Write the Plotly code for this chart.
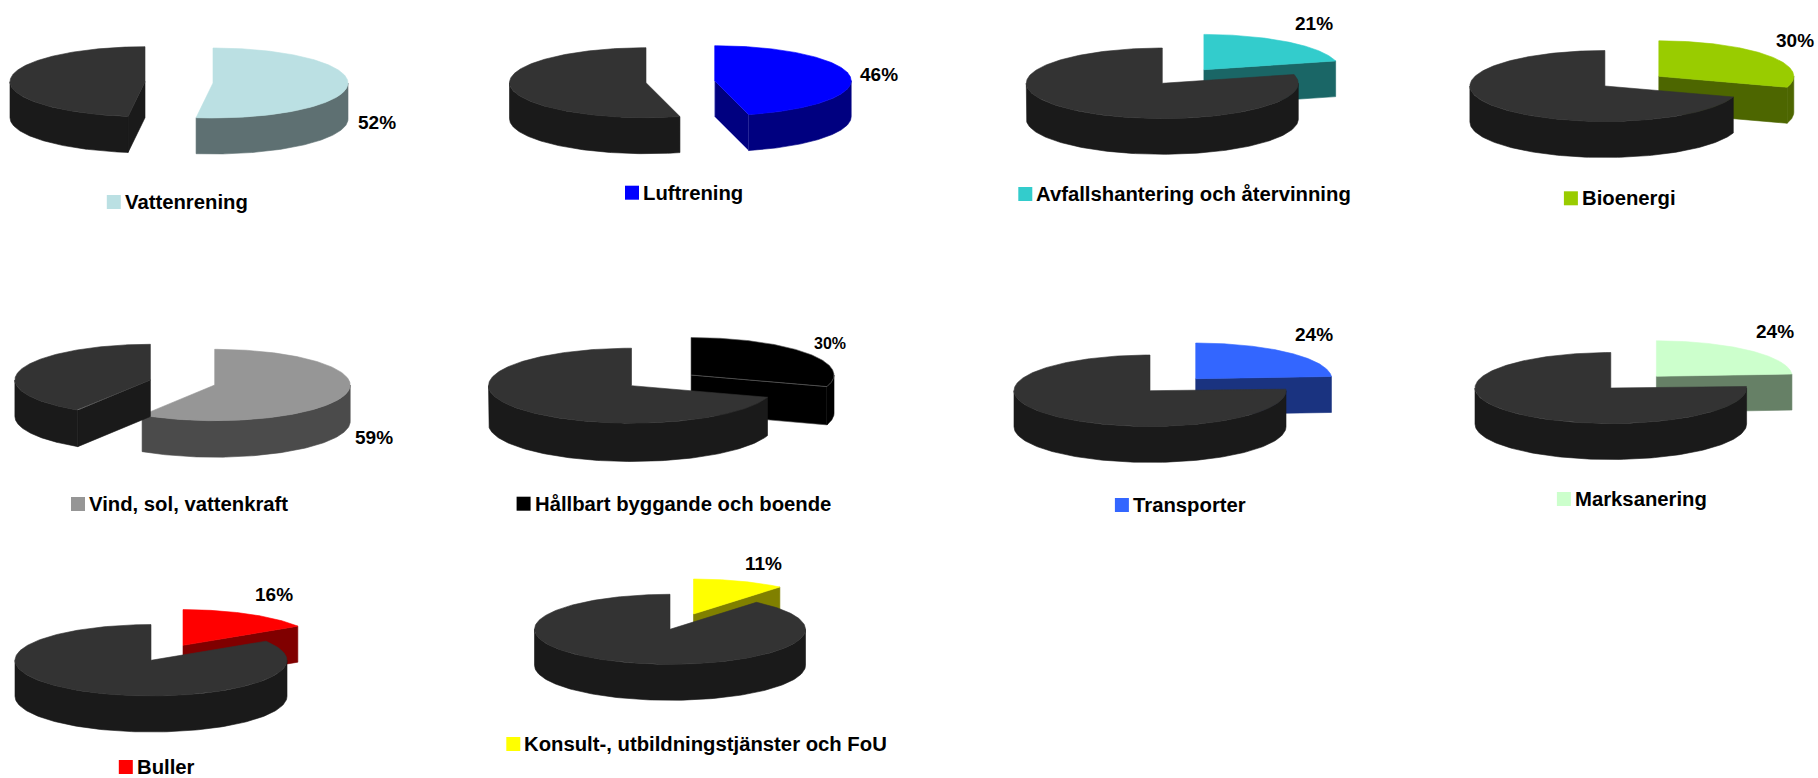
import numpy as np
import plotly.graph_objects as go

# ---------- data ----------
categories = ["Vattenrening", "Luftrening", "Avfallshantering och återvinning", "Bioenergi",
              "Vind, sol, vattenkraft", "Hållbart byggande och boende", "Transporter", "Marksanering",
              "Buller", "Konsult-, utbildningstjänster och FoU"]
shares = [52, 46, 21, 30, 59, 30, 24, 24, 16, 11]
colors = ["#BBE0E3", "#0000FF", "#33CCCC", "#99CC00", "#969696",
          "#000000", "#3366FF", "#CCFFCC", "#FF0000", "#FFFF00"]
wall_colors = ["#5E7072", "#000080", "#1A6666", "#4D6600", "#4B4B4B",
               "#000000", "#1A3380", "#668066", "#800000", "#808000"]
edge_colors = [None, "#9090e0", None, None, None, "#5a5a5a", None, None, None, None]
rest_top = "#333333"
rest_wall = "#1A1A1A"

# ---------- layout of the ten pies (page pixels) ----------
rest_centres = [(145, 81.7), (646, 82.7), (1162.3, 83.3), (1604.9, 86), (150.4, 380),
                (631.5, 385.7), (1150, 390.7), (1610.8, 388), (151, 660.3), (670, 629.3)]
share_centres = [(213, 83), (714.7, 80.7), (1203.9, 69.7), (1658.8, 76.3), (214.7, 385),
                 (691, 375), (1195.7, 378.7), (1656.4, 376.3), (183, 645.3), (693.5, 614)]
radii_x = [135, 136.5, 136, 135, 135.5, 143, 136, 135.8, 136, 135.5]
radii_y = [35, 35, 35.3, 35.5, 35.7, 37.5, 35.7, 35.5, 35.7, 35]
depths = [36, 36, 35.7, 36, 36.5, 38.3, 36, 36, 36, 36]
pct_pos = [(376.6, 122.3), (879, 74.3), (1314, 23), (1795, 40.7), (374, 437.3),
           (830, 343.5), (1314, 334), (1775, 331.7), (273.8, 594.7), (763.5, 563.7)]
pct_size = [19, 19, 19, 19, 19, 16, 19, 19, 19, 19]
key_pos = [(106.8, 202), (625, 192.7), (1018.3, 194), (1563.9, 198.3), (71, 504),
           (516.6, 503.7), (1114.9, 505), (1556.9, 499), (118.8, 767), (506.3, 744)]
FONT = "Liberation Sans, Arial, sans-serif"

fig = go.Figure()


def rim(c, rx, ry, deg):
    a = np.radians(deg)
    return c[0] + rx * np.sin(a), c[1] - ry * np.cos(a)


def poly(xs, ys, fill, edge=None):
    fig.add_trace(go.Scatter(x=xs, y=ys, mode="lines", fill="toself", fillcolor=fill,
                             line=dict(color=edge or fill, width=0.6),
                             hoverinfo="skip", showlegend=False))


def wedge(c, rx, ry, depth, a0, a1, top, wall, edge=None):
    """Slice of a tilted pie, clockwise from 12 o'clock, angles in degrees."""
    # cut faces
    for ang, visible in ((a0, 180 < a0 < 360), (a1, 0 < a1 < 180)):
        if visible:
            px, py = rim(c, rx, ry, ang)
            poly([c[0], px, px, c[0], c[0]],
                 [c[1], py, py + depth, c[1] + depth, c[1]], wall, edge)
    # outer wall (front half only)
    lo, hi = max(a0, 90), min(a1, 270)
    if hi > lo:
        t = np.linspace(lo, hi, 120)
        xt, yt = rim(c, rx, ry, t)
        poly(np.r_[xt, xt[::-1], xt[0]], np.r_[yt, yt[::-1] + depth, yt[0]], wall)
    # top surface
    t = np.linspace(a0, a1, 240)
    xt, yt = rim(c, rx, ry, t)
    poly(np.r_[c[0], xt, c[0]], np.r_[c[1], yt, c[1]], top, edge if top == "#000000" else None)


for i, share in enumerate(shares):
    split = share / 100 * 360
    wedge(share_centres[i], radii_x[i], radii_y[i], depths[i], 0, split, colors[i], wall_colors[i], edge_colors[i])
    wedge(rest_centres[i], radii_x[i], radii_y[i], depths[i], split, 360, rest_top, rest_wall)

# legend keys and texts
for i, name in enumerate(categories):
    kx, ky = key_pos[i]
    fig.add_trace(go.Scatter(x=[kx + 7], y=[ky], mode="markers",
                             marker=dict(symbol="square", size=14, color=colors[i], line=dict(width=0)),
                             hoverinfo="skip", showlegend=False))
    fig.add_annotation(x=kx + 16, y=ky, text=f"<b>{name}</b>", showarrow=False, xanchor="left",
                       yanchor="middle", font=dict(family=FONT, size=20.3, color="#000000"))
    px, py = pct_pos[i]
    fig.add_annotation(x=px, y=py, text=f"<b>{shares[i]}%</b>", showarrow=False, xanchor="center",
                       yanchor="middle", font=dict(family=FONT, size=pct_size[i], color="#000000"))

fig.update_layout(width=1818, height=778, margin=dict(l=0, r=0, t=0, b=0),
                  paper_bgcolor="white", plot_bgcolor="white",
                  xaxis=dict(range=[0, 1818], visible=False, fixedrange=True),
                  yaxis=dict(range=[778, 0], visible=False, fixedrange=True))
fig.write_html("out.html", config=dict(displayModeBar=False),
               post_script="document.body.style.margin='0';document.body.style.overflow='hidden';")
